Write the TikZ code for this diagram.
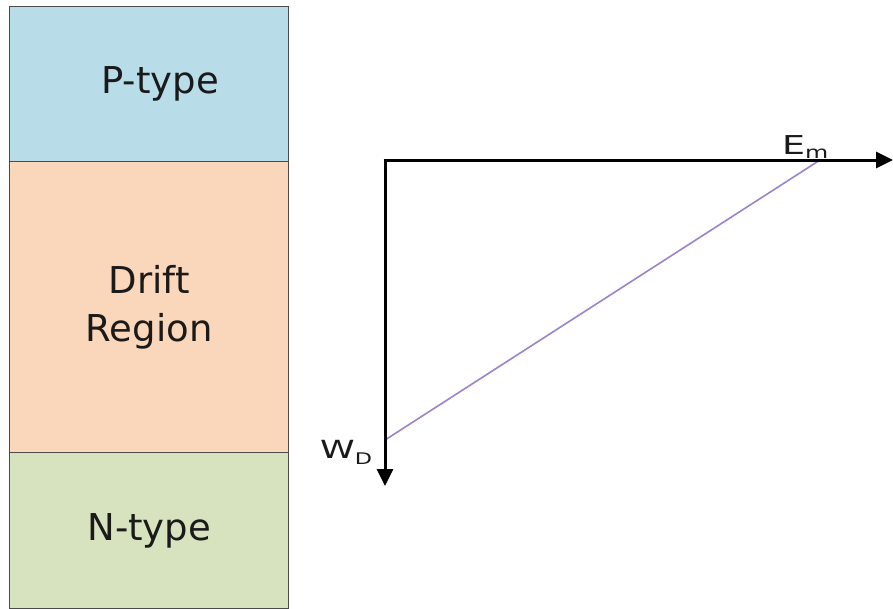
\documentclass[tikz,border=0pt]{standalone}
\usepackage{fontspec}
\setmainfont{DejaVu Sans}
\usetikzlibrary{arrows.meta}
\definecolor{pblue}{HTML}{B8DCE8}
\definecolor{dpeach}{HTML}{FAD6BA}
\definecolor{ngreen}{HTML}{D7E2BF}
\definecolor{edge}{HTML}{4A4A4A}
\definecolor{lineviolet}{HTML}{9B84C9}
\definecolor{txt}{HTML}{1A1A1A}
\begin{document}
\begin{tikzpicture}[x=1pt,y=-1pt,
  layer/.style={draw=edge,line width=1.4pt,minimum width=279pt,inner sep=0pt,anchor=north west,align=center,text=txt,font=\fontsize{37}{48}\selectfont},
  axis/.style={line width=3pt,-{Triangle[length=17pt,width=16pt]}},
  lbl/.style={inner sep=0pt,anchor=base west,text=txt}]
\useasboundingbox (0,0) rectangle (893,608);
\fill[white] (0,0) rectangle (893,608);
\node[layer,fill=pblue,minimum height=155pt] (p) at (9,6) {\hspace*{22pt}P-type};
\node[layer,fill=dpeach,minimum height=291pt] (d) at (9,161) {Drift\\Region};
\node[layer,fill=ngreen,minimum height=156pt] (n) at (9,452) {N-type};
\coordinate (o) at (385,160);
\coordinate (xe) at (893,160);
\coordinate (ye) at (385,486);
\coordinate (em) at (820,160);
\coordinate (wd) at (385,440);
\draw[lineviolet,line width=1.6pt] (em) -- (wd);
\draw[axis] ([xshift=-1.5pt]o) -- (xe);
\draw[axis] ([yshift=-1.5pt]o) -- (ye);
\node[lbl] (eml) at (782,154) {\scalebox{1.4}[1]{\fontsize{26}{28}\selectfont E\raisebox{-4pt}{\fontsize{17}{18}\selectfont m}}};
\node[lbl] (wdl) at (320,458) {\scalebox{1.4}[1]{\fontsize{25}{28}\selectfont W\raisebox{-6pt}{\fontsize{16}{18}\selectfont D}}};
\end{tikzpicture}
\end{document}
